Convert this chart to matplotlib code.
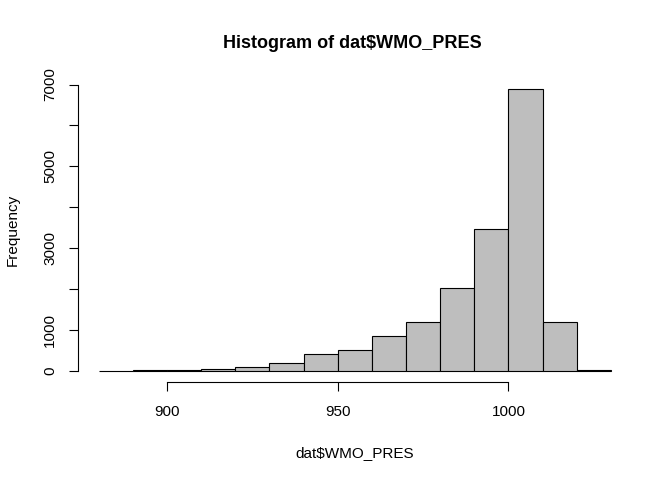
import matplotlib
matplotlib.use("Agg")
import matplotlib.pyplot as plt
import numpy as np

plt.rcParams['font.family'] = ['Liberation Sans', 'DejaVu Sans']

breaks = [880, 890, 900, 910, 920, 930, 940, 950, 960, 970, 980, 990, 1000, 1010, 1020, 1030]
counts = [5, 10, 25, 50, 80, 200, 400, 510, 840, 1190, 2035, 3455, 6885, 1200, 25]
xticks = [900, 950, 1000]
yticks = [0, 1000, 2000, 3000, 4000, 5000, 6000, 7000]
ytick_labels = ["0", "1000", "", "3000", "", "5000", "", "7000"]

W, H = 672, 480
fig = plt.figure(figsize=(W/100, H/100), dpi=100)
ax = fig.add_axes([78.3/W, 1-382/H, (631.4-78.3)/W, (382-78)/H])

left = np.array(breaks[:-1])
widths = np.diff(breaks)
ax.bar(left, counts, width=widths, align='edge', color='#bebebe',
       edgecolor='black', linewidth=0.8)

xr = breaks[-1] - breaks[0]
ax.set_xlim(breaks[0] - 0.04*xr, breaks[-1] + 0.04*xr)
ymax = max(counts)
ax.set_ylim(-0.04*ymax, ymax*1.04)

for s in ['top', 'right']:
    ax.spines[s].set_visible(False)
ax.spines['left'].set_bounds(0, 7000)
ax.spines['bottom'].set_bounds(900, 1000)
ax.spines['left'].set_linewidth(0.8)
ax.spines['bottom'].set_linewidth(0.8)

ax.set_xticks(xticks)
ax.set_xticklabels([str(v) for v in xticks])
ax.set_yticks(yticks)
ax.set_yticklabels(ytick_labels, rotation=90, va='center')
ax.tick_params(axis='both', direction='out', length=6.8, width=0.8, labelsize=11)
ax.tick_params(axis='x', pad=10)
ax.tick_params(axis='y', pad=8.5)

fig.text(352/W, 1-47.7/H, "Histogram of dat$WMO_PRES", fontsize=13, fontweight='bold',
         ha='center', va='baseline')
fig.text(354.8/W, 1-457.5/H, "dat$WMO_PRES", fontsize=11, ha='center', va='baseline')
fig.text(12.9/W, 1-230/H, "Frequency", fontsize=11, rotation=90, ha='center', va='center')

fig.savefig("out.png", dpi=100)
